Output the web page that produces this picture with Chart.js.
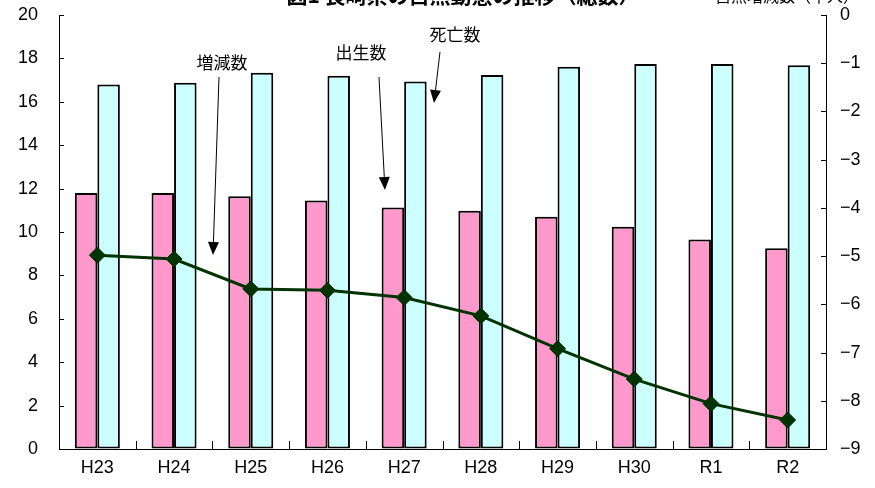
<!DOCTYPE html>
<html>
<head>
<meta charset="utf-8">
<script src="https://cdn.jsdelivr.net/npm/chart.js@4"></script>
<style>
  body { margin: 0; background: #fff; }
  canvas { display: block; }
</style>
</head>
<body>
<canvas id="chart" width="875" height="488"></canvas>
<script>
const years = ['H23', 'H24', 'H25', 'H26', 'H27', 'H28', 'H29', 'H30', 'R1', 'R2'];
const births = [11.8, 11.8, 11.65, 11.45, 11.13, 10.98, 10.7, 10.24, 9.66, 9.25];
const deaths = [16.8, 16.88, 17.34, 17.2, 16.93, 17.24, 17.62, 17.74, 17.74, 17.68];
const netChange = [-4.98, -5.06, -5.68, -5.71, -5.86, -6.24, -6.92, -7.55, -8.06, -8.4];

const title = '図1 長崎県の自然動態の推移（総数）';
const rightTitle = '自然増減数（千人）';

// callouts in data units: x = category index, y = left axis value
const callouts = [
    { text: '増減数', x: 1.625, y: 17.83, from: [1.586, 17.14], to: [1.508, 8.94] },
    { text: '出生数', x: 3.437, y: 18.29, from: [3.672, 17.14], to: [3.75, 11.94] },
    { text: '死亡数', x: 4.663, y: 19.08, from: [4.467, 18.29], to: [4.389, 15.94] }
];

const numFont = "'Liberation Sans', Arial, sans-serif";
const jpFont = "'Noto Sans CJK JP', sans-serif";

const decorPlugin = {
    id: 'decor',
    afterDraw(chart) {
        const ctx = chart.ctx;
        const area = chart.chartArea;
        const x = chart.scales.x;
        const y = chart.scales.y;
        const y1 = chart.scales.y1;
        ctx.save();
        ctx.strokeStyle = '#000';
        ctx.lineWidth = 1;

        // inward ticks on the value axes
        y.ticks.forEach((t, i) => {
            const py = Math.round(y.getPixelForTick(i)) + 0.5;
            ctx.beginPath();
            ctx.moveTo(area.left, py);
            ctx.lineTo(area.left + 5, py);
            ctx.stroke();
        });
        y1.ticks.forEach((t, i) => {
            const py = Math.round(y1.getPixelForTick(i)) + 0.5;
            ctx.beginPath();
            ctx.moveTo(area.right, py);
            ctx.lineTo(area.right - 5, py);
            ctx.stroke();
        });
        // inward ticks between categories
        for (let i = 0; i <= years.length; i++) {
            const px = Math.round(x.getPixelForValue(i - 0.5)) + 0.5;
            ctx.beginPath();
            ctx.moveTo(px, area.bottom);
            ctx.lineTo(px, area.bottom - 8);
            ctx.stroke();
        }

        // titles (cut off at the top like the original)
        ctx.fillStyle = '#000';
        ctx.textAlign = 'center';
        ctx.textBaseline = 'alphabetic';
        ctx.font = 'bold 21px ' + jpFont;
        ctx.fillText(title, 463, 3);
        ctx.font = '16px ' + jpFont;
        ctx.fillText(rightTitle, 787, 2);

        // callouts with arrows
        ctx.font = '17px ' + jpFont;
        ctx.textBaseline = 'middle';
        callouts.forEach(c => {
            ctx.fillText(c.text, x.getPixelForValue(c.x), y.getPixelForValue(c.y));
            const x0 = x.getPixelForValue(c.from[0]), y0 = y.getPixelForValue(c.from[1]);
            const x1 = x.getPixelForValue(c.to[0]), y1p = y.getPixelForValue(c.to[1]);
            const ang = Math.atan2(y1p - y0, x1 - x0);
            const len = 13, half = 5.5;
            const bx = x1 - len * Math.cos(ang), by = y1p - len * Math.sin(ang);
            ctx.beginPath();
            ctx.moveTo(x0, y0);
            ctx.lineTo(bx, by);
            ctx.stroke();
            ctx.beginPath();
            ctx.moveTo(x1, y1p);
            ctx.lineTo(bx + half * Math.sin(ang), by - half * Math.cos(ang));
            ctx.lineTo(bx - half * Math.sin(ang), by + half * Math.cos(ang));
            ctx.closePath();
            ctx.fill();
        });
        ctx.restore();
    }
};

function fitVertical(width) {
    return s => {
        s.width = width;
        s.paddingTop = 0;
        s.paddingBottom = 0;
    };
}

const ctx = document.getElementById('chart').getContext('2d');

new Chart(ctx, {
    data: {
        labels: years,
        datasets: [{
            type: 'line',
            label: '増減数',
            data: netChange,
            yAxisID: 'y1',
            borderColor: '#003300',
            backgroundColor: '#003300',
            borderWidth: 3,
            pointStyle: 'rectRot',
            pointRadius: 8,
            pointBorderWidth: 1,
            tension: 0,
            order: 0
        }, {
            type: 'bar',
            label: '出生数',
            data: births,
            yAxisID: 'y',
            backgroundColor: '#FF99CC',
            borderColor: '#000',
            borderWidth: 2,
            borderSkipped: false,
            categoryPercentage: 0.587,
            barPercentage: 1,
            order: 1
        }, {
            type: 'bar',
            label: '死亡数',
            data: deaths,
            yAxisID: 'y',
            backgroundColor: '#CCFFFF',
            borderColor: '#000',
            borderWidth: 2,
            borderSkipped: false,
            categoryPercentage: 0.587,
            barPercentage: 1,
            order: 1
        }]
    },
    options: {
        responsive: false,
        animation: false,
        layout: { padding: { top: 15 } },
        plugins: {
            legend: { display: false },
            tooltip: { enabled: false }
        },
        scales: {
            x: {
                grid: { drawOnChartArea: false, drawTicks: false },
                border: { display: true, color: '#000', width: 1 },
                ticks: { color: '#000', padding: 8, font: { family: numFont, size: 18 } },
                afterFit(s) { s.height = 39; s.paddingLeft = 0; s.paddingRight = 0; }
            },
            y: {
                position: 'left',
                min: 0,
                max: 20,
                grid: { drawOnChartArea: false, drawTicks: false },
                border: { display: true, color: '#000', width: 1 },
                ticks: { stepSize: 2, color: '#000', padding: 21, font: { family: numFont, size: 18 } },
                afterFit: fitVertical(59)
            },
            y1: {
                position: 'right',
                min: -9,
                max: 0,
                grid: { drawOnChartArea: false, drawTicks: false },
                border: { display: true, color: '#000', width: 1 },
                ticks: {
                    stepSize: 1,
                    color: '#000',
                    padding: 14,
                    font: { family: numFont, size: 18 },
                    callback: v => (v < 0 ? '\u2212' + Math.abs(v) : String(v))
                },
                afterFit: fitVertical(49)
            }
        }
    },
    plugins: [decorPlugin]
});
</script>
</body>
</html>
